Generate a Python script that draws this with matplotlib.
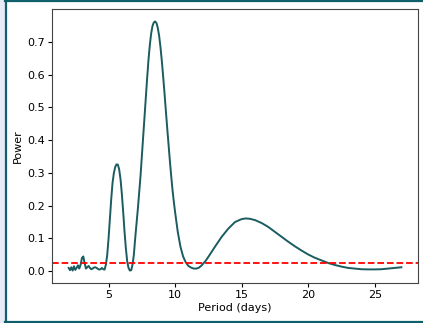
import matplotlib
matplotlib.use("Agg")
import matplotlib.pyplot as plt
from matplotlib.patches import Rectangle
from matplotlib.lines import Line2D

period = [2.0, 2.1, 2.2, 2.3, 2.4, 2.5, 2.6, 2.7, 2.8, 2.9, 3.0, 3.1, 3.2, 3.3, 3.4, 3.5,
          3.6, 3.7, 3.8, 3.9, 4.0, 4.1, 4.2, 4.3, 4.4, 4.5, 4.6, 4.7, 4.8, 4.9, 5.0, 5.1,
          5.2, 5.3, 5.4, 5.5, 5.6, 5.7, 5.8, 5.9, 6.0, 6.1, 6.2, 6.3, 6.4, 6.5, 6.6, 6.7,
          6.8, 6.9, 7.0, 7.1, 7.2, 7.3, 7.4, 7.5, 7.6, 7.7, 7.8, 7.9, 8.0, 8.1, 8.2, 8.3,
          8.4, 8.5, 8.6, 8.7, 8.8, 8.9, 9.0, 9.1, 9.2, 9.3, 9.4, 9.5, 9.6, 9.7, 9.8, 9.9,
          10.0, 10.2, 10.4, 10.6, 10.8, 11.0, 11.2, 11.4, 11.6, 11.8, 12.0, 12.3,
          12.6, 13.0, 13.5, 14.0, 14.5, 15.0, 15.3, 15.6, 16.0, 16.5, 17.0, 17.5, 18.0,
          18.5, 19.0, 19.5, 20.0, 20.5, 21.0, 21.5, 22.0, 22.5, 23.0, 23.5, 24.0, 24.5,
          25.0, 25.5, 26.0, 26.5, 27.0]
power = [0.010, 0.003, 0.012, 0.002, 0.015, 0.004, 0.010, 0.018, 0.008, 0.020, 0.040, 0.045,
         0.025, 0.008, 0.012, 0.016, 0.010, 0.006, 0.008, 0.011, 0.012, 0.010, 0.007, 0.005,
         0.006, 0.010, 0.006, 0.005, 0.020, 0.050, 0.100, 0.160, 0.220, 0.270, 0.300, 0.318,
         0.326, 0.325, 0.310, 0.280, 0.235, 0.180, 0.120, 0.070, 0.030, 0.010, 0.002, 0.003,
         0.020, 0.050, 0.100, 0.145, 0.190, 0.240, 0.290, 0.350, 0.410, 0.470, 0.530, 0.590,
         0.645, 0.690, 0.725, 0.748, 0.759, 0.762, 0.757, 0.742, 0.718, 0.684, 0.642, 0.595,
         0.545, 0.492, 0.440, 0.390, 0.340, 0.293, 0.250, 0.213,
         0.180, 0.120, 0.075, 0.045, 0.027, 0.016, 0.011, 0.008, 0.008, 0.011, 0.018, 0.032,
         0.050, 0.075, 0.105, 0.130, 0.150, 0.159, 0.161, 0.160, 0.156, 0.147, 0.135, 0.120,
         0.105, 0.090, 0.076, 0.063, 0.051, 0.041, 0.033, 0.025, 0.019, 0.014, 0.010, 0.008,
         0.006, 0.0055, 0.0055, 0.006, 0.008, 0.010, 0.012]
threshold = 0.025

fig = plt.figure(figsize=(4.23, 3.23), dpi=100, facecolor="white")
# outer frame decoration
fig.patches.append(Rectangle((0, 0), 5 / 423, 1, transform=fig.transFigure,
                             facecolor="#e8eaf6", edgecolor="none", zorder=0))
teal = "#0e5f6a"
fig.lines.append(Line2D([6 / 423, 6 / 423], [0, 1], transform=fig.transFigure, color=teal, lw=1.6))
fig.lines.append(Line2D([5 / 423, 1], [1 - 1 / 323, 1 - 1 / 323], transform=fig.transFigure, color=teal, lw=1.6))
fig.lines.append(Line2D([5 / 423, 1], [1.5 / 323, 1.5 / 323], transform=fig.transFigure, color=teal, lw=1.6))

ax = fig.add_axes([52 / 423, 1 - 283 / 323, (418 - 52) / 423, (283 - 9) / 323])
ax.plot(period, power, color="#1a5c60", lw=1.4)
ax.axhline(threshold, color="red", ls="--", lw=1.3)
ax.set_xlabel("Period (days)", fontsize=8, labelpad=2)
ax.set_ylabel("Power", fontsize=8, labelpad=3)
ax.tick_params(labelsize=8, length=3, pad=2)
ax.set_xticks([5, 10, 15, 20, 25])
ax.set_yticks([0.0, 0.1, 0.2, 0.3, 0.4, 0.5, 0.6, 0.7])
for s in ax.spines.values():
    s.set_color("#444444")
fig.savefig("out.png", dpi=100, facecolor="white")
